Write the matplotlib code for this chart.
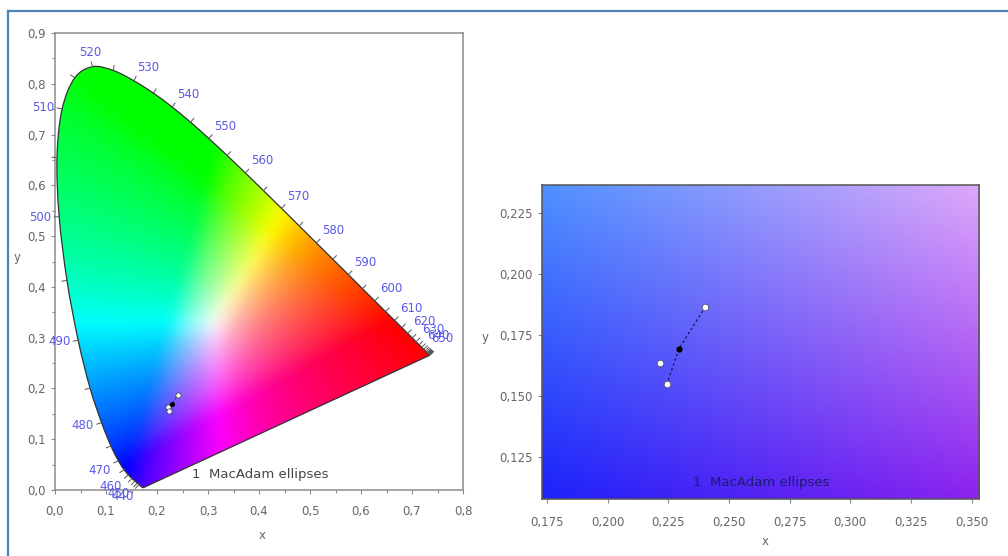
import numpy as np
import matplotlib
matplotlib.use("Agg")
import matplotlib.pyplot as plt
from matplotlib.patches import PathPatch
from matplotlib.path import Path
from matplotlib.lines import Line2D
from matplotlib.ticker import FuncFormatter, MultipleLocator

# ---------------- data ----------------
# CIE 1931 spectral locus (2 deg observer), 5 nm steps
wavelengths = list(range(380, 705, 5))
locus_x = [0.1741, 0.1740, 0.1738, 0.1736, 0.1733, 0.1730, 0.1726, 0.1721, 0.1714, 0.1703,
           0.1689, 0.1669, 0.1644, 0.1611, 0.1566, 0.1510, 0.1440, 0.1355, 0.1241, 0.1096,
           0.0913, 0.0687, 0.0454, 0.0235, 0.0082, 0.0039, 0.0139, 0.0389, 0.0743, 0.1142,
           0.1547, 0.1929, 0.2296, 0.2658, 0.3016, 0.3373, 0.3731, 0.4087, 0.4441, 0.4788,
           0.5125, 0.5448, 0.5752, 0.6029, 0.6270, 0.6482, 0.6658, 0.6801, 0.6915, 0.7006,
           0.7079, 0.7140, 0.7190, 0.7230, 0.7260, 0.7283, 0.7300, 0.7311, 0.7320, 0.7327,
           0.7334, 0.7340, 0.7344, 0.7346, 0.7347]
locus_y = [0.0050, 0.0050, 0.0049, 0.0049, 0.0048, 0.0048, 0.0048, 0.0048, 0.0051, 0.0058,
           0.0069, 0.0086, 0.0109, 0.0138, 0.0177, 0.0227, 0.0297, 0.0399, 0.0578, 0.0868,
           0.1327, 0.2007, 0.2950, 0.4127, 0.5384, 0.6548, 0.7502, 0.8120, 0.8338, 0.8262,
           0.8059, 0.7816, 0.7543, 0.7243, 0.6923, 0.6589, 0.6245, 0.5896, 0.5547, 0.5202,
           0.4866, 0.4544, 0.4242, 0.3965, 0.3725, 0.3514, 0.3340, 0.3197, 0.3083, 0.2993,
           0.2920, 0.2859, 0.2809, 0.2770, 0.2740, 0.2717, 0.2700, 0.2689, 0.2680, 0.2673,
           0.2666, 0.2660, 0.2656, 0.2654, 0.2653]
tick_wavelengths = list(range(440, 705, 5))
label_wavelengths = list(range(440, 660, 10))

# measured chromaticity points
pts_x = [0.2403, 0.2218, 0.2244]
pts_y = [0.1867, 0.1635, 0.1549]
center_x = [0.2294]
center_y = [0.1694]
# dashed connection: top point -> centre -> bottom point
conn_x = [0.2403, 0.2294, 0.2244]
conn_y = [0.1867, 0.1694, 0.1549]

left_xticks = [0.0, 0.1, 0.2, 0.3, 0.4, 0.5, 0.6, 0.7, 0.8]
left_yticks = [0.0, 0.1, 0.2, 0.3, 0.4, 0.5, 0.6, 0.7, 0.8, 0.9]
right_xticks = [0.175, 0.200, 0.225, 0.250, 0.275, 0.300, 0.325, 0.350]
right_yticks = [0.125, 0.150, 0.175, 0.200, 0.225]
annotation = "1  MacAdam ellipses"

# ---------------- style ----------------
W, H, DPI = 1008, 556, 100
TICK_COLOR = "#666666"
WL_COLOR = "#5a5ae6"
FS = 8.5

# right panel corner colours (bl, br, tl, tr)
C_BL = np.array([28, 34, 250]) / 255
C_BR = np.array([140, 34, 238]) / 255
C_TL = np.array([78, 145, 255]) / 255
C_TR = np.array([222, 168, 250]) / 255

fig = plt.figure(figsize=(W / DPI, H / DPI), dpi=DPI)
fig.patch.set_facecolor("white")

# blue frame (top and left edges)
fig.add_artist(Line2D([8 / W, 8 / W], [0, 1 - 11 / H], color="#4f81bd", lw=1.6, transform=fig.transFigure))
fig.add_artist(Line2D([8 / W, 1], [1 - 11 / H, 1 - 11 / H], color="#4f81bd", lw=1.6, transform=fig.transFigure))


def comma_fmt(dec):
    return FuncFormatter(lambda v, p: f"{v:.{dec}f}".replace(".", ","))


def style_axes(ax, spine_color, xpad):
    for s in ax.spines.values():
        s.set_color(spine_color)
        s.set_linewidth(1.1)
    ax.tick_params(which="both", direction="out", colors="#888888", labelcolor=TICK_COLOR,
                   labelsize=FS, length=3, width=0.8)
    ax.tick_params(which="minor", length=2)
    ax.tick_params(axis="x", which="major", pad=xpad)


def xy_to_rgb(x, y):
    y = np.maximum(y, 1e-3)
    X = x / y
    Y = np.ones_like(x)
    Z = (1 - x - y) / y
    M = np.array([[3.2406, -1.5372, -0.4986],
                  [-0.9689, 1.8758, 0.0415],
                  [0.0557, -0.2040, 1.0570]])
    rgb = np.tensordot(np.stack([X, Y, Z], axis=-1), M.T, axes=1)
    rgb = np.clip(rgb, 0, None)
    rgb = rgb / np.maximum(rgb.max(axis=-1, keepdims=True), 1e-9)
    rgb = rgb ** (1 / 1.5)
    return np.clip(rgb, 0, 1)


def blur(img, sigma):
    r = int(3 * sigma)
    k = np.exp(-0.5 * (np.arange(-r, r + 1) / sigma) ** 2)
    k /= k.sum()
    out = np.pad(img, ((r, r), (r, r), (0, 0)), mode="edge")
    out = np.apply_along_axis(lambda m: np.convolve(m, k, mode="valid"), 0, out)
    out = np.apply_along_axis(lambda m: np.convolve(m, k, mode="valid"), 1, out)
    return out


def smooth_closed_path(xs, ys):
    P = np.column_stack([xs, ys])
    n = len(P)
    verts = [P[0]]
    codes = [Path.MOVETO]
    for i in range(n - 1):
        p0 = P[max(i - 1, 0)]
        p1 = P[i]
        p2 = P[i + 1]
        p3 = P[min(i + 2, n - 1)]
        c1 = p1 + (p2 - p0) / 6
        c2 = p2 - (p3 - p1) / 6
        verts += [c1, c2, p2]
        codes += [Path.CURVE4] * 3
    verts += [P[0], P[0]]
    codes += [Path.LINETO, Path.CLOSEPOLY]
    return Path(np.array(verts), codes)


# ---------------- left panel ----------------
axL = fig.add_axes([55 / W, 1 - 490 / H, 408 / W, 457 / H])
axL.set_xlim(0, 0.8)
axL.set_ylim(0, 0.9)
gx, gy = np.meshgrid(np.linspace(0, 0.8, 320), np.linspace(0, 0.9, 360))
img = blur(xy_to_rgb(gx, gy), 5)
im = axL.imshow(np.clip(img, 0, 1), origin="lower", extent=(0, 0.8, 0, 0.9),
                interpolation="bilinear", aspect="auto", zorder=1)
locus_patch = PathPatch(smooth_closed_path(locus_x, locus_y), facecolor="none",
                        edgecolor="#333333", lw=0.9, zorder=2)
axL.add_patch(locus_patch)
im.set_clip_path(locus_patch)

# pixel scales
sx = 408 / 0.8
sy = 457 / 0.9
lx = np.array(locus_x)
ly = np.array(locus_y)
wl = np.array(wavelengths)


def normal_at(w):
    i = int(np.where(wl == w)[0][0])
    a = max(i - 2, 0)
    b = min(i + 2, len(wl) - 1)
    tx = (lx[b] - lx[a]) * sx
    ty = (ly[b] - ly[a]) * sy
    n = np.array([-ty, tx])
    return n / np.hypot(*n), i


for w in tick_wavelengths:
    n, i = normal_at(w)
    L = 5
    axL.plot([lx[i], lx[i] + n[0] * L / sx], [ly[i], ly[i] + n[1] * L / sy],
             color="#555555", lw=0.7, zorder=3, clip_on=False)

for w in label_wavelengths:
    n, i = normal_at(w)
    d = 8
    ha = "left" if n[0] > 0.38 else ("right" if n[0] < -0.38 else "center")
    va = "bottom" if n[1] > 0.38 else ("top" if n[1] < -0.38 else "center")
    axL.annotate(str(w), xy=(lx[i], ly[i]), xytext=(n[0] * d * 72 / DPI, n[1] * d * 72 / DPI),
                 textcoords="offset points", ha=ha, va=va, fontsize=FS, color=WL_COLOR,
                 zorder=4, annotation_clip=False)

axL.plot(conn_x, conn_y, color="#1a1a60", lw=0.6, ls=(0, (2, 2)), zorder=4)
axL.scatter(pts_x, pts_y, s=14, facecolor="white", edgecolor="#333333", linewidth=0.5, zorder=5)
axL.scatter(center_x, center_y, s=7, facecolor="black", edgecolor="black", zorder=6)
axL.text(0.336, 0.033, annotation, transform=axL.transAxes, fontsize=9.5, color="#444444",
         ha="left", va="center", zorder=5)

axL.set_xticks(left_xticks)
axL.set_yticks(left_yticks)
axL.xaxis.set_minor_locator(MultipleLocator(0.05))
axL.yaxis.set_minor_locator(MultipleLocator(0.05))
axL.xaxis.set_major_formatter(comma_fmt(1))
axL.yaxis.set_major_formatter(comma_fmt(1))
style_axes(axL, "#8c8c8c", 8)
axL.set_xlabel("x", fontsize=FS, color=TICK_COLOR)
axL.xaxis.set_label_coords(0.507, -0.085)
axL.set_ylabel("y", fontsize=FS, color=TICK_COLOR, rotation=0, ha="center", va="center")
axL.yaxis.set_label_coords(-0.093, 0.508)

# ---------------- right panel ----------------
x0, x1 = 0.1729, 0.3530
y0, y1 = 0.1079, 0.2366
axR = fig.add_axes([541.7 / W, 1 - 499 / H, 437.3 / W, 314 / H])
axR.set_xlim(x0, x1)
axR.set_ylim(y0, y1)
u = np.linspace(0, 1, 200)[None, :, None]
v = np.linspace(0, 1, 150)[:, None, None]
grad = (C_BL * (1 - u) * (1 - v) + C_BR * u * (1 - v) + C_TL * (1 - u) * v + C_TR * u * v)
axR.imshow(np.clip(grad, 0, 1), origin="lower", extent=(x0, x1, y0, y1), aspect="auto",
           interpolation="bilinear", zorder=1)
axR.plot(conn_x, conn_y, color="#14145a", lw=0.9, ls=(0, (2, 2)), zorder=3)
axR.scatter(pts_x, pts_y, s=22, facecolor="white", edgecolor="#555577", linewidth=0.6, zorder=4)
axR.scatter(center_x, center_y, s=12, facecolor="black", edgecolor="black", zorder=5)
axR.text(0.346, 0.051, annotation, transform=axR.transAxes, fontsize=9.5, color="#1c1c70",
         ha="left", va="center", zorder=5)
axR.set_xticks(right_xticks)
axR.set_yticks(right_yticks)
axR.xaxis.set_major_formatter(comma_fmt(3))
axR.yaxis.set_major_formatter(comma_fmt(3))
style_axes(axR, "#555555", 9)
axR.set_xlabel("x", fontsize=FS, color=TICK_COLOR)
axR.xaxis.set_label_coords(0.51, -0.115)
axR.set_ylabel("y", fontsize=FS, color=TICK_COLOR, rotation=0, ha="center", va="center")
axR.yaxis.set_label_coords(-0.13, 0.513)

fig.savefig("out.png", dpi=DPI, facecolor="white")
